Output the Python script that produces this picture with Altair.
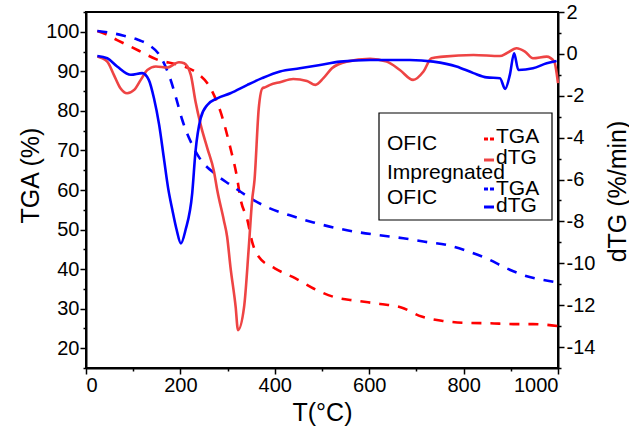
import altair as alt
import pandas as pd

# ---------------- data ----------------
T_tga_ofic = [24, 40, 66, 109, 152, 197, 236, 264, 285, 306, 319, 328, 342, 352, 366,
              400, 443, 482, 527, 573, 623, 668, 711, 757, 807, 856, 905, 947, 1000]
tga_ofic = [100.2, 99.5, 97.9, 95.4, 92.9, 91.6, 89.5, 85.7, 79.8, 70.6, 63.8, 57.4, 52.4, 46.9, 43.1,
            40.2, 37.7, 35.1, 32.9, 32.0, 31.2, 30.3, 28.0, 26.9, 26.4, 26.3, 26.1, 26.1, 25.6]

T_tga_imp = [24, 45, 80, 110, 133, 160, 178, 192, 204, 220, 241, 273, 306, 356, 383,
             432, 482, 529, 573, 619, 672, 718, 764, 807, 849, 891, 934, 990, 1000]
tga_imp = [100.2, 99.9, 99.0, 98.0, 96.7, 93.3, 88.3, 82.8, 77.7, 72.7, 68.0, 64.1, 61.3, 57.4, 55.7,
           53.6, 51.8, 50.4, 49.4, 48.6, 47.8, 46.9, 46.1, 44.6, 42.7, 40.2, 38.2, 36.8, 36.6]

T_dtg_ofic = [24, 45, 59, 73, 87, 102, 116, 130, 148, 172, 197, 208, 222, 232, 243, 257, 271, 278,
              292, 299, 306, 317, 322, 335, 345, 352, 357, 366, 374, 379, 390, 411, 439, 468, 486,
              503, 521, 552, 602, 637, 665, 693, 715, 732, 757, 821, 877, 891, 912, 930, 947,
              976, 992, 1000]
dtg_ofic = [-0.13, -0.37, -1.0, -1.64, -1.88, -1.72, -1.24, -0.77, -0.6, -0.65, -0.4, -0.45, -1.0,
            -2.27, -3.39, -4.5, -5.6, -6.5, -7.94, -8.73, -10.17, -12.07, -13.19, -12.07, -9.2,
            -6.98, -6.03, -2.6, -1.64, -1.6, -1.48, -1.35, -1.2, -1.29, -1.48, -1.16, -0.69,
            -0.37, -0.24, -0.37, -0.77, -1.24, -0.84, -0.21, -0.13, -0.05, -0.1, 0.03, 0.27,
            0.11, -0.21, -0.13, -0.37, -1.4]

T_dtg_imp = [24, 45, 66, 95, 119, 133, 144, 155, 165, 174, 183, 192, 201, 211, 225, 232, 243, 257,
             278, 306, 342, 373, 411, 453, 496, 538, 602, 686, 736, 785, 821, 849, 877, 888, 898,
             907, 916, 947, 976, 997]
dtg_imp = [-0.10, -0.21, -0.6, -1.0, -0.92, -1.24, -2.12, -3.39, -4.98, -6.41, -7.46, -8.4, -9.05,
           -8.4, -6.66, -4.66, -3.07, -2.44, -2.12, -1.88, -1.48, -1.16, -0.84, -0.69, -0.53,
           -0.37, -0.29, -0.29, -0.37, -0.6, -0.92, -1.12, -1.16, -1.67, -1.0, 0.03, -0.77,
           -0.69, -0.45, -0.34]

x_major = [0, 200, 400, 600, 800, 1000]
x_minor = [100, 300, 500, 700, 900]
yl_major = [20, 30, 40, 50, 60, 70, 80, 90, 100]
yl_minor = [15, 25, 35, 45, 55, 65, 75, 85, 95, 105]
yr_major = [2, 0, -2, -4, -6, -8, -10, -12, -14]
yr_minor = [1, -1, -3, -5, -7, -9, -11, -13, -15]

series = ["OFIC TGA", "OFIC dTG", "Impregnated TGA", "Impregnated dTG"]
colors = ["#FF0000", "#EE4444", "#0000FF", "#0000FF"]


def frame(T, v, key):
    return pd.DataFrame({"T": T, "v": v, "s": key})


tga_df = pd.concat([frame(T_tga_ofic, tga_ofic, series[0]),
                    frame(T_tga_imp, tga_imp, series[2])], ignore_index=True)
dtg_df = pd.concat([frame(T_dtg_ofic, dtg_ofic, series[1]),
                    frame(T_dtg_imp, dtg_imp, series[3])], ignore_index=True)

FONT = "Liberation Sans"
W, H = 472, 356
xs = alt.Scale(domain=[0, 1000], nice=False, zero=False)
yls = alt.Scale(domain=[15, 105], nice=False, zero=False)
yrs = alt.Scale(domain=[-15, 2], nice=False, zero=False)
cs = alt.Scale(domain=series, range=colors)

common = dict(labelFont=FONT, labelFontSize=20, labelColor="black", titleFont=FONT,
              titleFontSize=25, titleFontWeight="normal", titleColor="black",
              domainColor="black", domainWidth=2, tickColor="black", tickWidth=1.5,
              grid=False, labelExpr="datum.value + ''")

tga = alt.Chart(tga_df).mark_line(strokeWidth=2.6, strokeDash=[10, 9],
                                  interpolate="monotone").encode(
    x=alt.X("T:Q", scale=xs, axis=alt.Axis(orient="bottom", values=x_major, title="T(°C)",
                                           tickSize=6, labelPadding=1, titleX=236, titleY=44,
                                           titleAngle=0, titleBaseline="middle",
                                           titleAlign="center", **common)),
    y=alt.Y("v:Q", scale=yls, axis=alt.Axis(orient="left", values=yl_major, title="TGA (%)",
                                            tickSize=6, labelPadding=1, titleX=-56, titleY=163,
                                            titleAngle=270, titleBaseline="middle",
                                            titleAlign="center", **common)),
    color=alt.Color("s:N", scale=cs, legend=None),
)

dtg = alt.Chart(dtg_df).mark_line(strokeWidth=2.6, interpolate="monotone").encode(
    x=alt.X("T:Q", scale=xs, axis=None),
    y=alt.Y("v:Q", scale=yrs, axis=alt.Axis(orient="right", values=yr_major,
                                            title="dTG (%/min)", tickSize=6, labelPadding=2,
                                            titleX=59, titleY=179, titleAngle=270,
                                            titleBaseline="middle", titleAlign="center",
                                            **common)),
    color=alt.Color("s:N", scale=cs, legend=None),
)

minor_l = alt.Chart(tga_df).mark_line(opacity=0).encode(
    x=alt.X("T:Q", scale=xs, axis=alt.Axis(orient="bottom", values=x_minor, labels=False,
                                           title=None, domain=False, tickSize=3,
                                           tickColor="black", tickWidth=1.5, grid=False)),
    y=alt.Y("v:Q", scale=yls, axis=alt.Axis(orient="left", values=yl_minor, labels=False,
                                            title=None, domain=False, tickSize=3,
                                            tickColor="black", tickWidth=1.5, grid=False)),
)

minor_r = alt.Chart(dtg_df).mark_line(opacity=0).encode(
    x=alt.X("T:Q", scale=xs, axis=None),
    y=alt.Y("v:Q", scale=yrs, axis=alt.Axis(orient="right", values=yr_minor, labels=False,
                                            title=None, domain=False, tickSize=3,
                                            tickColor="black", tickWidth=1.5, grid=False)),
)

# ---------------- hand-made legend ----------------
one = pd.DataFrame({"k": [0]})
LFS = 21


def txt(s, x, y):
    return alt.Chart(one).mark_text(text=s, align="left", baseline="middle", font=FONT,
                                    fontSize=LFS, color="black").encode(
        x=alt.value(x), y=alt.value(y))


def sample(color, y, dash=None):
    kw = dict(color=color, strokeWidth=3)
    if dash:
        kw["strokeDash"] = dash
    return alt.Chart(one).mark_rule(**kw).encode(
        x=alt.value(398), x2=alt.value(408), y=alt.value(y))


box = alt.Chart(one).mark_rect(fill="white", stroke="black", strokeWidth=1.2).encode(
    x=alt.value(293), x2=alt.value(466), y=alt.value(101), y2=alt.value(208))

legend = [box,
          txt("OFIC", 301, 132), txt("Impregnated", 301, 161), txt("OFIC", 301, 186),
          sample(colors[0], 127, [4, 2]), txt("TGA", 410, 125),
          sample(colors[1], 148), txt("dTG", 410, 146),
          sample(colors[2], 177, [4, 2]), txt("TGA", 410, 177),
          sample(colors[3], 195), txt("dTG", 410, 194)]

chart = alt.layer(minor_l, minor_r, tga, dtg, *legend).resolve_scale(
    y="independent").resolve_axis(x="independent", y="independent").properties(
    width=W, height=H,
    autosize=alt.AutoSizeParams(type="none"),
    padding={"left": 86, "top": 12, "right": 71, "bottom": 66},
).configure_view(stroke="black", strokeWidth=2)

chart.save("out.html", embed_options={"renderer": "svg", "actions": False})
